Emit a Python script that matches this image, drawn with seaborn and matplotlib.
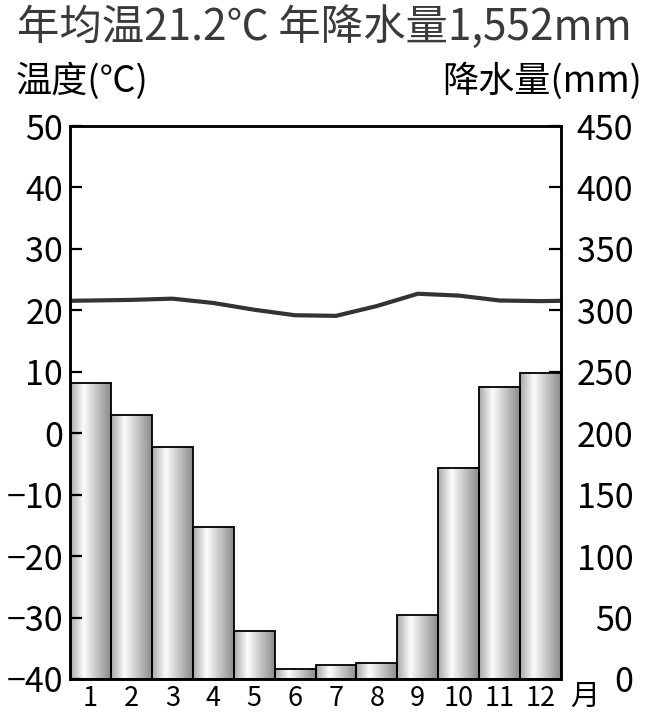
import numpy as np
import matplotlib
matplotlib.use("Agg")
import matplotlib.pyplot as plt
import seaborn as sns
from matplotlib.colors import LinearSegmentedColormap

# 月份、降水量(mm)、气温(℃)
months = [str(m) for m in range(1, 13)]
precip = [241, 215, 189, 124, 39, 8, 11, 13, 52, 172, 238, 249]
temp = [21.6, 21.7, 21.9, 21.2, 20.1, 19.2, 19.1, 20.7, 22.7, 22.4, 21.6, 21.5]
temp_ticks = list(range(-40, 51, 10))
precip_ticks = list(range(0, 451, 50))

title = "年均温21.2℃ 年降水量1,552mm"
left_label = "温度(℃)"
right_label = "降水量(mm)"

sns.set_theme(style="white")
plt.rcParams["font.family"] = ["Noto Sans CJK SC", "DejaVu Sans"]

fig = plt.figure(figsize=(6.47, 7.14), dpi=100)
ax = fig.add_axes([70 / 647, 35 / 714, 491 / 647, 553 / 714])

# 降水柱状图
sns.barplot(x=months, y=precip, order=months, ax=ax, width=1.0,
            color="white", edgecolor="black", linewidth=1.3, zorder=2)

# 圆柱状灰色渐变
shade = LinearSegmentedColormap.from_list(
    "cyl", [(0, "#a9a9a9"), (0.33, "#fcfcfc"), (1, "#8c8c8c")])
grad = np.linspace(0, 1, 64).reshape(1, -1)
for p in ax.patches:
    x0, w, h = p.get_x(), p.get_width(), p.get_height()
    ax.imshow(grad, extent=[x0, x0 + w, 0, h], cmap=shade, aspect="auto",
              interpolation="bicubic", zorder=1)
    p.set_facecolor("none")

ax.set_xlim(-0.5, 11.5)
ax.set_ylim(0, 450)
ax.set_xlabel("")
ax.set_ylabel("")

# 气温曲线
ax2 = ax.twinx()
xs = np.r_[-0.5, np.arange(12), 11.5]
ys = np.r_[(temp[0] + temp[-1]) / 2, temp, (temp[0] + temp[-1]) / 2]
sns.lineplot(x=xs, y=ys, ax=ax2, color="#333333", linewidth=3,
             solid_capstyle="round", solid_joinstyle="round")
ax2.set_ylim(-40, 50)
ax2.set_yticks(temp_ticks)
ax2.yaxis.tick_left()
ax2.set_ylabel("")
ax2.tick_params(axis="y", direction="in", length=8.5, width=1.6,
                labelsize=24.5, pad=5, colors="black", left=True, right=False)

# 降水量刻度放在右侧（twinx 之后再设），右对齐
ax.yaxis.tick_right()
ax.set_yticks(precip_ticks)
ax.tick_params(axis="y", direction="in", length=8.5, width=1.6,
               labelsize=24.5, pad=52, colors="black", right=True, left=False)
for lab in ax.get_yticklabels():
    lab.set_horizontalalignment("right")
ax.tick_params(axis="x", length=0, labelsize=19.5, pad=4, colors="black")

for a in (ax, ax2):
    for s in a.spines.values():
        s.set_color("black")
        s.set_linewidth(1.8)

fig.text(17 / 647, 1 - 28 / 714, title, fontsize=30.5, color="#3a3a3a",
         ha="left", va="center")
fig.text(16 / 647, 1 - 81 / 714, left_label, fontsize=26, color="black",
         ha="left", va="center")
fig.text(642 / 647, 1 - 81 / 714, right_label, fontsize=26, color="black",
         ha="right", va="center")
fig.text(585 / 647, 1 - 697 / 714, "月", fontsize=21, color="black",
         ha="center", va="center")

fig.savefig("out.png", dpi=100)
